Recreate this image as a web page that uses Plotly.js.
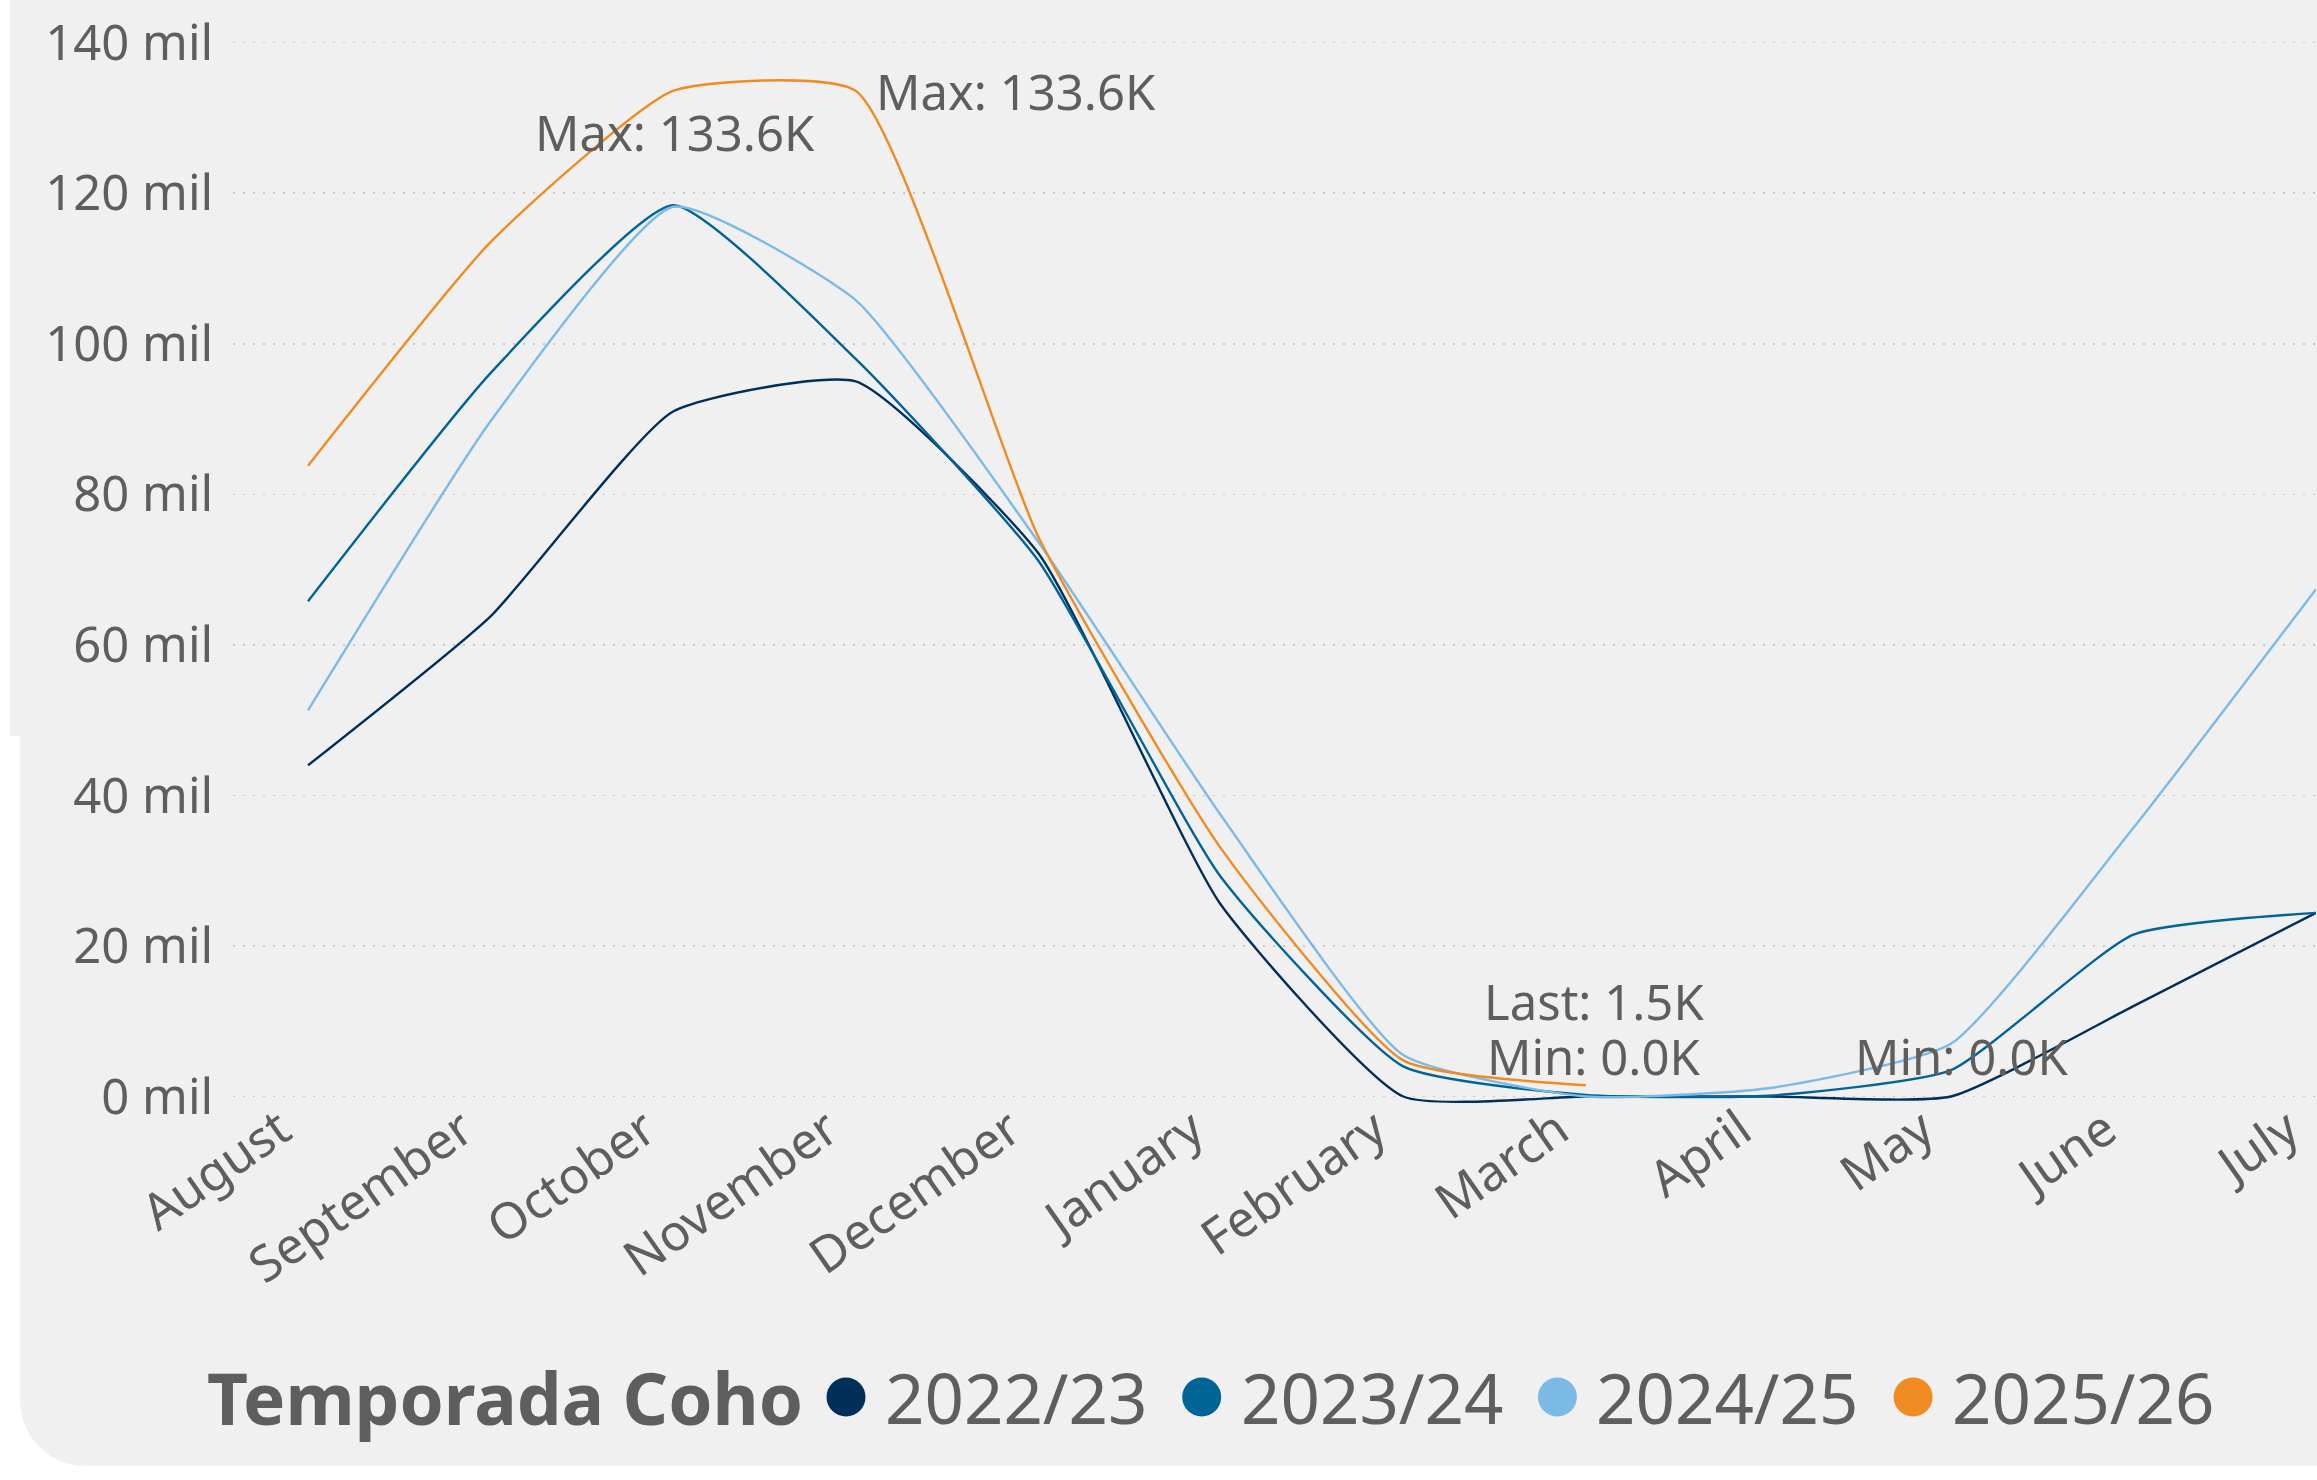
<!DOCTYPE html>
<html>
<head>
<meta charset="utf-8">
<script src="https://cdn.plot.ly/plotly-3.0.1.min.js"></script>
<style>
  html, body { margin: 0; padding: 0; background: #ffffff; }
  body { width: 2317px; height: 1480px; position: relative; overflow: hidden; }
  #panelTop { position: absolute; left: 10px; top: 0; width: 2307px; height: 736px; background: #F0F0F0; }
  #panelBottom { position: absolute; left: 20px; top: 736px; width: 2297px; height: 730px; background: #F0F0F0; border-bottom-left-radius: 66px; }
  #chart { position: absolute; left: 0; top: 0; width: 2317px; height: 1480px; }
</style>
</head>
<body>
<div id="panelTop"></div>
<div id="panelBottom"></div>
<div id="chart"></div>
<script>
// ---- data ----
const months = ['August','September','October','November','December','January','February','March','April','May','June','July'];
const seriesNames = ['2022/23','2023/24','2024/25','2025/26'];
const seriesColors = ['#00305A','#006496','#7CBAE6','#F08B22'];
const s2022 = [44000, 63800, 91000, 95000, 72200, 25500, 0, 0, 0, 0, 12000, 24400];
const s2023 = [65800, 96100, 118400, 98000, 71200, 29200, 4000, 200, 100, 3500, 21500, 24400];
const s2024 = [51300, 89700, 118200, 105800, 73700, 37400, 5500, 0, 1100, 7000, 35700, 67400];
const s2025 = [83800, 113500, 133600, 133600, 74400, 33000, 4800, 1500];
const yTickVals = [0, 20000, 40000, 60000, 80000, 100000, 120000, 140000];
const yTickText = ['0 mil','20 mil','40 mil','60 mil','80 mil','100 mil','120 mil','140 mil'];
const legendTitle = 'Temporada Coho';

const allSeries = [s2022, s2023, s2024, s2025];

// ---- geometry ----
const W = 2317, H = 1480;
const mL = 233, mR = 1, mT = 27, mB = 368;
const plotW = W - mL - mR, plotH = H - mT - mB;
const FONT = '"Segoe UI", "Noto Sans", "Open Sans", sans-serif';
const TXT = '#605E5C';

function px2paperX(px) { return (px - mL) / plotW; }
function px2paperY(py) { return (H - mB - py) / plotH; }

const traces = allSeries.map((s, i) => ({
  type: 'scatter',
  mode: 'lines',
  x: months.slice(0, s.length),
  y: s,
  name: seriesNames[i],
  line: { color: seriesColors[i], width: 2.4, shape: 'spline', smoothing: 0.5 },
  hoverinfo: 'skip',
  showlegend: false
}));

function kLabel(prefix, v) { return prefix + (v / 1000).toFixed(1) + 'K'; }

const annFont = { family: FONT, size: 49, color: TXT };
const s2025Max = Math.max(...s2025);
const annotations = [
  { x: months[2], y: s2025[2], xref: 'x', yref: 'y', text: kLabel('Max: ', s2025Max), showarrow: false,
    xanchor: 'center', yanchor: 'middle', xshift: 2, yshift: -41, font: annFont },
  { x: months[3], y: s2025[3], xref: 'x', yref: 'y', text: kLabel('Max: ', s2025Max), showarrow: false,
    xanchor: 'left', yanchor: 'middle', xshift: 18, yshift: 0, font: annFont },
  { x: months[s2025.length - 1], y: s2025[s2025.length - 1], xref: 'x', yref: 'y', text: kLabel('Last: ', s2025[s2025.length - 1]), showarrow: false,
    xanchor: 'center', yanchor: 'middle', xshift: 8, yshift: 84, font: annFont },
  { x: months[7], y: s2024[7], xref: 'x', yref: 'y', text: kLabel('Min: ', Math.min(...s2024)), showarrow: false,
    xanchor: 'center', yanchor: 'middle', xshift: 8, yshift: 41, font: annFont },
  { x: months[9], y: s2022[9], xref: 'x', yref: 'y', text: kLabel('Min: ', Math.min(...s2022)), showarrow: false,
    xanchor: 'center', yanchor: 'middle', xshift: 11, yshift: 41, font: annFont }
];

// ---- custom legend ----
const legY = 1397;
const legFont = { family: FONT, size: 69, color: TXT };
annotations.push({
  x: px2paperX(205), y: px2paperY(legY), xref: 'paper', yref: 'paper',
  text: '<b>' + legendTitle + '</b>', showarrow: false, xanchor: 'left', yanchor: 'middle',
  font: { family: FONT, size: 71, color: TXT }
});
const shapes = [];
const legStart = 846, legStep = 355.7, dotR = 19.5;
seriesNames.forEach((n, i) => {
  const cx = legStart + i * legStep;
  shapes.push({
    type: 'circle', xref: 'paper', yref: 'paper',
    x0: px2paperX(cx - dotR), x1: px2paperX(cx + dotR),
    y0: px2paperY(legY + dotR), y1: px2paperY(legY - dotR),
    fillcolor: seriesColors[i], line: { width: 0 }
  });
  annotations.push({
    x: px2paperX(cx + 37), y: px2paperY(legY), xref: 'paper', yref: 'paper',
    text: n, showarrow: false, xanchor: 'left', yanchor: 'middle', font: legFont
  });
});

// y range so that 0 sits at 1096.5px and 140k at 42.7px
const pxPerUnit = (1096.5 - 42.7) / 140000;
const yMin = -((H - mB) - 1096.5) / pxPerUnit;
const yMax = 140000 + (42.7 - mT) / pxPerUnit;
const xPx = (2316 - 308) / 11;
const xMin = -(308 - mL) / xPx;

const layout = {
  width: W, height: H,
  margin: { l: mL, r: mR, t: mT, b: mB, pad: 0 },
  paper_bgcolor: 'rgba(0,0,0,0)',
  plot_bgcolor: 'rgba(0,0,0,0)',
  showlegend: false,
  font: { family: FONT, color: TXT },
  xaxis: {
    type: 'category',
    categoryorder: 'array', categoryarray: months,
    range: [xMin, 11],
    showgrid: false, zeroline: false, showline: false,
    ticks: '',
    ticklabelshift: -28,
    ticklabelstandoff: -22,
    tickangle: -35,
    tickfont: { family: FONT, size: 50, color: TXT },
    fixedrange: true
  },
  yaxis: {
    range: [yMin, yMax],
    tickvals: yTickVals, ticktext: yTickText,
    showgrid: true, gridcolor: '#C8C8C8', gridwidth: 1.5, griddash: '2px,8px',
    zeroline: false, showline: false,
    ticks: 'outside', ticklen: 9, tickcolor: 'rgba(0,0,0,0)',
    tickfont: { family: FONT, size: 49, color: TXT },
    fixedrange: true
  },
  annotations: annotations,
  shapes: shapes
};

Plotly.newPlot('chart', traces, layout, { displayModeBar: false, staticPlot: true });
</script>
</body>
</html>
